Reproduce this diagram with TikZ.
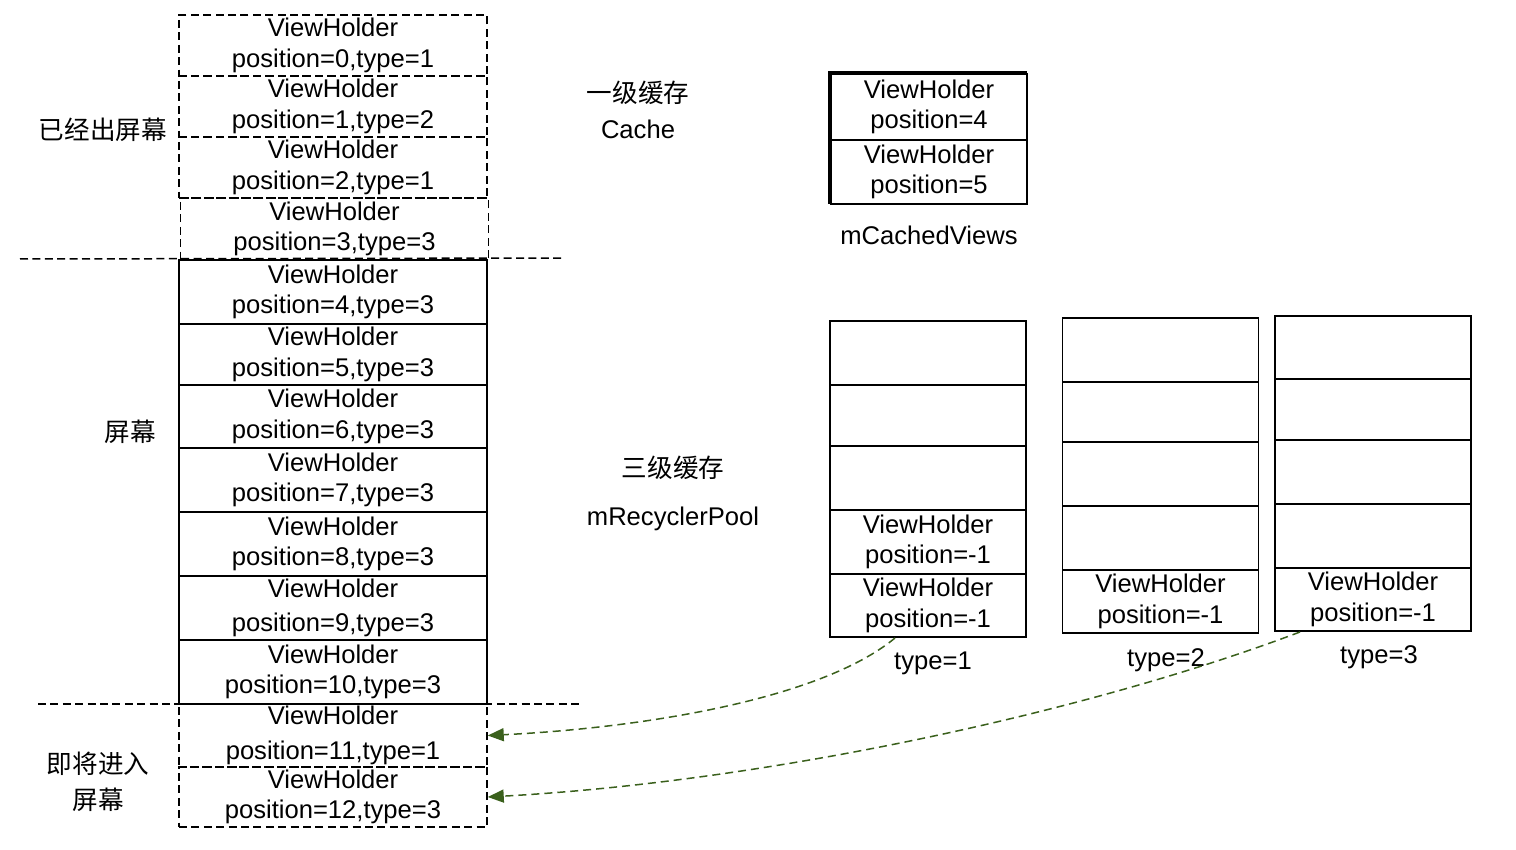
\documentclass[tikz,border=0pt]{standalone}
\usepackage{fontspec}
\setmainfont{Liberation Sans}
\newfontfamily\cjk{Noto Sans CJK SC}
\usetikzlibrary{arrows.meta}
\definecolor{arrowgreen}{RGB}{58,96,28}
\newcommand{\vhfont}{\fontsize{12.8}{15.2}\selectfont}
\tikzset{
  cell/.style={draw, line width=0.9pt, inner sep=0pt, align=center, font=\vhfont, minimum width=#1},
  cell/.default=154pt,
  dcell/.style={cell=#1, dash pattern=on 4pt off 2.2pt, line width=0.75pt},
  dcell/.default=154pt,
  pcell/.style={draw, line width=0.75pt, inner sep=0pt, align=center, font=\vhfont, minimum width=98pt},
  lbl/.style={inner sep=0pt, align=center, font=\vhfont},
  clbl/.style={inner sep=0pt, align=center, font=\vhfont\cjk},
  sep/.style={line width=0.75pt, dash pattern=on 4pt off 2.2pt},
  reuse/.style={arrowgreen, line width=0.75pt, dash pattern=on 4pt off 2.5pt, -{Triangle[length=8pt,width=6.5pt]}}
}
\begin{document}
\begin{tikzpicture}[x=0.5pt,y=-0.5pt]
\useasboundingbox (0,0) rectangle (1516,850);
% left column
\node[dcell, minimum height=30.5pt] (r0) at (333,45.5) {ViewHolder\\position=0,type=1};
\node[dcell, minimum height=30.5pt] (r1) at (333,106.5) {ViewHolder\\position=1,type=2};
\node[dcell, minimum height=30.5pt] (r2) at (333,167.5) {ViewHolder\\position=2,type=1};
\node[dcell, minimum height=31pt] (r3) at (334.5,229) {ViewHolder\\position=3,type=3};
\node[cell, minimum height=32pt] (r4) at (333,292) {ViewHolder\\position=4,type=3};
\node[cell, minimum height=30.5pt] (r5) at (333,354.5) {ViewHolder\\position=5,type=3};
\node[cell, minimum height=31.5pt] (r6) at (333,416.5) {ViewHolder\\position=6,type=3};
\node[cell, minimum height=32pt] (r7) at (333,480) {ViewHolder\\position=7,type=3};
\node[cell, minimum height=32pt] (r8) at (333,544) {ViewHolder\\position=8,type=3};
\node[cell, minimum height=32pt] (r9) at (333,608) {ViewHolder\\[2pt]position=9,type=3};
\node[cell, minimum height=32pt] (r10) at (333,672) {ViewHolder\\position=10,type=3};
\node[dcell, minimum height=31.5pt] (r11) at (333,735.5) {ViewHolder\\[2pt]position=11,type=1};
\node[dcell, minimum height=30pt] (r12) at (333,797) {ViewHolder\\position=12,type=3};
% separators
\coordinate (s1a) at (20,259); \coordinate (s1b) at (562,258);
\coordinate (s2a) at (38,704); \coordinate (s2b) at (580,704);
\draw[sep] (s1a) -- (s1b);
\draw[sep] (s2a) -- (s2b);
% left labels
\node[clbl] (lout) at (103,130) {已经出屏幕};
\node[clbl] (lscr) at (130,432) {屏幕};
\node[clbl, font=\fontsize{12.8}{18}\selectfont\cjk] (lin) at (98,782) {即将进入\\屏幕};
% middle labels
\node[clbl] (l1) at (638,93) {一级缓存};
\node[lbl] (l1b) at (638,129) {Cache};
\node[clbl] (l3) at (673,468) {三级缓存};
\node[lbl] (l3b) at (673,519) {mRecyclerPool};
% mCachedViews
\draw[line width=0.75pt] (829,204) -- (829,72) -- (1027,72);
\node[pcell, minimum height=33pt] (c1) at (929,107) {ViewHolder\\position=4};
\node[pcell, minimum height=32pt] (c2) at (929,172) {ViewHolder\\position=5};
\node[lbl] (cl) at (929,235) {mCachedViews};
% pool type=1
\node[pcell, minimum height=32pt] (p1a) at (928,353) {};
\node[pcell, minimum height=30.5pt] (p1b) at (928,415.5) {};
\node[pcell, minimum height=32pt] (p1c) at (928,478) {};
\node[pcell, minimum height=32pt] (p1d) at (928,542) {ViewHolder\\position=-1};
\node[pcell, minimum height=31.5pt] (p1e) at (928,605.5) {ViewHolder\\position=-1};
\node[lbl] (t1) at (933,663) {type=1};
% pool type=2
\node[pcell, minimum height=32pt] (p2a) at (1160.5,350) {};
\node[pcell, minimum height=30pt] (p2b) at (1160.5,412) {};
\node[pcell, minimum height=32pt] (p2c) at (1160.5,474) {};
\node[pcell, minimum height=32pt] (p2d) at (1160.5,538) {};
\node[pcell, minimum height=31.5pt] (p2e) at (1160.5,601.5) {ViewHolder\\position=-1};
\node[lbl] (t2) at (1166,660) {type=2};
% pool type=3
\node[pcell, minimum height=31.5pt] (p3a) at (1373,347.5) {};
\node[pcell, minimum height=30.5pt] (p3b) at (1373,409.5) {};
\node[pcell, minimum height=32pt] (p3c) at (1373,472) {};
\node[pcell, minimum height=32pt] (p3d) at (1373,536) {};
\node[pcell, minimum height=31.5pt] (p3e) at (1373,599.5) {ViewHolder\\position=-1};
\node[lbl] (t3) at (1379,657) {type=3};
% reuse arrows
\coordinate (a1) at (895,638);
\coordinate (a2) at (1300,632);
\draw[reuse] (a1) .. controls (820,700) and (640,728) .. (r11.east);
\draw[reuse] (a2) .. controls (1080,715) and (760,782) .. (r12.east);
\end{tikzpicture}
\end{document}
